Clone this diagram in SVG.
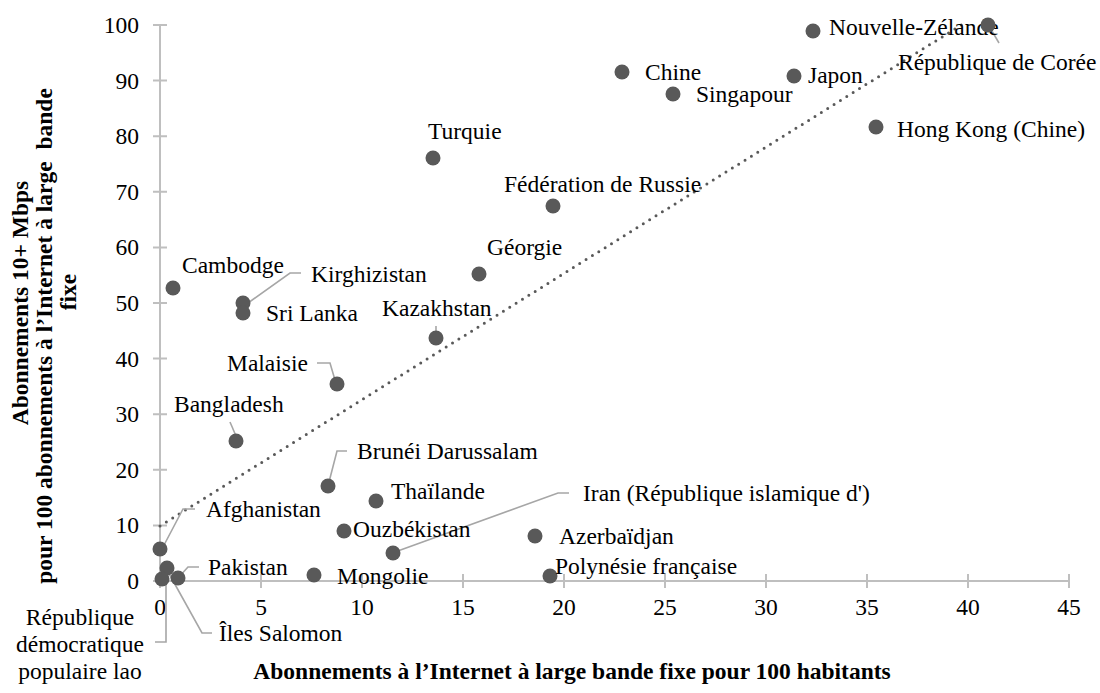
<svg xmlns="http://www.w3.org/2000/svg" width="1100" height="693" viewBox="0 0 1100 693">
<style>
text{font-family:'Liberation Serif','Times New Roman',serif;fill:#000}
.lbl{font-size:23.5px}
.tick{font-size:23.5px}
.ty{text-anchor:end}
.tx{text-anchor:middle}
.title{font-size:23.5px;font-weight:bold;text-anchor:middle}
.axis{stroke:#bfbfbf;stroke-width:2;fill:none}
.dot{fill:#595959}
.lead{stroke:#a6a6a6;stroke-width:1.6;fill:none}
.trend{stroke:#595959;stroke-width:3;stroke-linecap:round;stroke-dasharray:0 7.5;fill:none}
</style>
<rect width="1100" height="693" fill="#fff"/>
<g id="axes">
<path class="axis" d="M160 25V581H1069"/>
<path class="axis" d="M153 25H167M153 80.6H167M153 136.2H167M153 191.8H167M153 247.4H167M153 303H167M153 358.6H167M153 414.2H167M153 469.8H167M153 525.4H167M153 581H167"/>
<path class="axis" d="M160 574V588M261 574V588M362 574V588M463 574V588M564 574V588M665 574V588M766 574V588M867 574V588M968 574V588M1069 574V588"/>
<g class="tick ty">
<text x="139" y="33">100</text><text x="139" y="88.6">90</text><text x="139" y="144.2">80</text><text x="139" y="199.8">70</text><text x="139" y="255.4">60</text><text x="139" y="311">50</text><text x="139" y="366.6">40</text><text x="139" y="422.2">30</text><text x="139" y="477.8">20</text><text x="139" y="533.4">10</text><text x="139" y="589">0</text>
</g>
<g class="tick tx">
<text x="160" y="615">0</text><text x="261" y="615">5</text><text x="362" y="615">10</text><text x="463" y="615">15</text><text x="564" y="615">20</text><text x="665" y="615">25</text><text x="766" y="615">30</text><text x="867" y="615">35</text><text x="968" y="615">40</text><text x="1069" y="615">45</text>
</g>
<text class="title" x="572" y="679">Abonnements à l’Internet à large bande fixe pour 100 habitants</text>
<text class="title" transform="translate(28 303) rotate(-90)">Abonnements 10+ Mbps</text>
<text class="title" transform="translate(52 336) rotate(-90)" xml:space="preserve">pour 100 abonnements à l’Internet à large  bande</text>
<text class="title" transform="translate(76 292) rotate(-90)">fixe</text>
</g>
<g id="connectors">
<path class="trend" d="M160 526L966 22"/>
<path class="lead" d="M989 26L999 43"/>
<path class="lead" d="M436 337V326"/>
<path class="lead" d="M248 303L290 273H301"/>
<path class="lead" d="M335 380L330 363H317"/>
<path class="lead" d="M236 436L230 422"/>
<path class="lead" d="M329 482L337 451H347"/>
<path class="lead" d="M395 552L558 493H569"/>
<path class="lead" d="M163 547L183 509H195"/>
<path class="lead" d="M178 578L188 567H199"/>
<path class="lead" d="M167 570L202 633H212"/>
<path class="lead" d="M166 578V642H155"/>
</g>
<g id="n-nouvelle-zelande"><circle class="dot" cx="813" cy="31" r="7.5"/><text class="lbl" x="829" y="35">Nouvelle-Zélande</text></g>
<g id="n-coree"><circle class="dot" cx="988" cy="25" r="7.5"/><text class="lbl" x="898" y="70">République de Corée</text></g>
<g id="n-chine"><circle class="dot" cx="622" cy="72" r="7.5"/><text class="lbl" x="645" y="80">Chine</text></g>
<g id="n-japon"><circle class="dot" cx="794" cy="76" r="7.5"/><text class="lbl" x="808" y="83">Japon</text></g>
<g id="n-singapour"><circle class="dot" cx="673" cy="94" r="7.5"/><text class="lbl" x="696" y="102">Singapour</text></g>
<g id="n-hong-kong"><circle class="dot" cx="876" cy="127" r="7.5"/><text class="lbl" x="897" y="137">Hong Kong (Chine)</text></g>
<g id="n-turquie"><circle class="dot" cx="433" cy="158" r="7.5"/><text class="lbl" x="428" y="139">Turquie</text></g>
<g id="n-russie"><circle class="dot" cx="553" cy="206" r="7.5"/><text class="lbl" x="504" y="192">Fédération de Russie</text></g>
<g id="n-georgie"><circle class="dot" cx="479" cy="274" r="7.5"/><text class="lbl" x="487" y="255">Géorgie</text></g>
<g id="n-kazakhstan"><circle class="dot" cx="436" cy="338" r="7.5"/><text class="lbl" x="382" y="316">Kazakhstan</text></g>
<g id="n-cambodge"><circle class="dot" cx="173" cy="288" r="7.5"/><text class="lbl" x="182" y="273">Cambodge</text></g>
<g id="n-kirghizistan"><circle class="dot" cx="243" cy="303" r="7.5"/><text class="lbl" x="311" y="282">Kirghizistan</text></g>
<g id="n-sri-lanka"><circle class="dot" cx="243" cy="313" r="7.5"/><text class="lbl" x="266" y="321">Sri Lanka</text></g>
<g id="n-malaisie"><circle class="dot" cx="337" cy="384" r="7.5"/><text class="lbl" x="227" y="371">Malaisie</text></g>
<g id="n-bangladesh"><circle class="dot" cx="236" cy="441" r="7.5"/><text class="lbl" x="174" y="412">Bangladesh</text></g>
<g id="n-brunei"><circle class="dot" cx="328" cy="486" r="7.5"/><text class="lbl" x="357" y="459">Brunéi Darussalam</text></g>
<g id="n-thailande"><circle class="dot" cx="376" cy="501" r="7.5"/><text class="lbl" x="391" y="499">Thaïlande</text></g>
<g id="n-iran"><circle class="dot" cx="393" cy="553" r="7.5"/><text class="lbl" x="583" y="501">Iran (République islamique d')</text></g>
<g id="n-afghanistan"><circle class="dot" cx="160" cy="549" r="7.5"/><text class="lbl" x="206" y="517">Afghanistan</text></g>
<g id="n-ouzbekistan"><circle class="dot" cx="344" cy="531" r="7.5"/><text class="lbl" x="353" y="537">Ouzbékistan</text></g>
<g id="n-azerbaidjan"><circle class="dot" cx="535" cy="536" r="7.5"/><text class="lbl" x="559" y="544">Azerbaïdjan</text></g>
<g id="n-mongolie"><circle class="dot" cx="314" cy="575" r="7.5"/><text class="lbl" x="337" y="584">Mongolie</text></g>
<g id="n-polynesie"><circle class="dot" cx="550" cy="576" r="7.5"/><text class="lbl" x="555" y="574">Polynésie française</text></g>
<g id="n-pakistan"><circle class="dot" cx="178" cy="578" r="7.5"/><text class="lbl" x="208" y="575">Pakistan</text></g>
<g id="n-salomon"><circle class="dot" cx="167" cy="568" r="7.5"/><text class="lbl" x="219" y="641">Îles Salomon</text></g>
<g id="n-lao"><circle class="dot" cx="162" cy="579" r="7.5"/><text class="lbl tx" x="80" y="625">République</text><text class="lbl tx" x="80" y="652">démocratique</text><text class="lbl tx" x="80" y="679">populaire lao</text></g>
</svg>
